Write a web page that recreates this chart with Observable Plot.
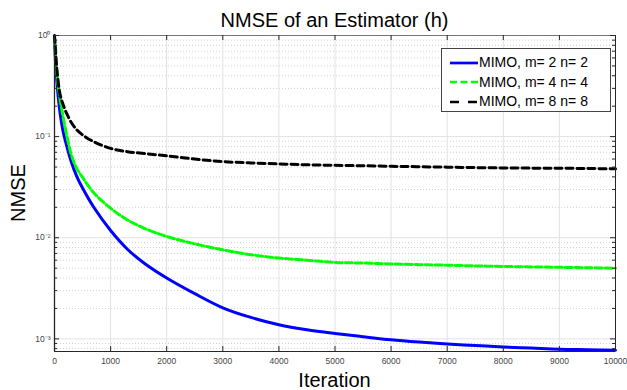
<!DOCTYPE html>
<html>
<head>
<meta charset="utf-8">
<script src="https://cdn.jsdelivr.net/npm/d3@7"></script>
<script src="https://cdn.jsdelivr.net/npm/@observablehq/plot@0.6"></script>
<style>
  body { margin: 0; background: #fff; font-family: "Liberation Sans", Arial, sans-serif; }
  #wrap { position: relative; width: 627px; height: 390px; overflow: hidden; background: #fff; }
  #wrap > svg { position: absolute; left: 0; top: 0; }
  .title { position: absolute; left: 54px; width: 561px; top: 10px; text-align: center; font-size: 20px; line-height: 20px; color: #000; white-space: nowrap; }
  .xlabel { position: absolute; left: 54px; width: 561px; top: 370px; text-align: center; font-size: 20px; line-height: 20px; color: #000; }
  .ylabel { position: absolute; left: 18px; top: 193px; transform: translate(-50%, -50%) rotate(-90deg); font-size: 20px; line-height: 20px; color: #000; white-space: nowrap; }
  .legend { position: absolute; left: 441px; top: 48px; width: 168px; height: 62px; border: 1px solid #444; background: #fff; }
  .legend .row { position: absolute; left: 0; height: 19px; display: flex; align-items: center; font-size: 14px; line-height: 19px; color: #000; white-space: nowrap; }
  .legend .row svg { display: block; margin-left: 8px; margin-right: 1px; }
</style>
</head>
<body>
<div id="wrap">
  <div class="title">NMSE of an Estimator (h)</div>
  <div class="xlabel">Iteration</div>
  <div class="ylabel">NMSE</div>
</div>
<script>
// ---- data ----
const iterations = [0, 20, 50, 100, 150, 200, 300, 400, 500, 700, 1000, 1300, 1600, 2000, 2500, 3000, 3500, 4000, 4500, 5000, 5500, 6000, 6500, 7000, 7500, 8000, 8500, 9000, 9500, 10000];
const mimo2 = [0.95, 0.53, 0.31, 0.17, 0.115, 0.088, 0.056, 0.040, 0.031, 0.020, 0.0118, 0.0077, 0.0056, 0.0040, 0.0028, 0.00203, 0.00163, 0.00138, 0.00123, 0.00113, 0.00105, 0.00098, 0.00093, 0.00089, 0.00086, 0.00083, 0.00081, 0.00079, 0.00078, 0.00077];
const mimo4 = [0.95, 0.60, 0.38, 0.235, 0.16, 0.115, 0.066, 0.048, 0.0395, 0.0278, 0.0196, 0.0150, 0.0124, 0.0103, 0.0087, 0.0076, 0.0068, 0.0063, 0.0060, 0.0057, 0.00562, 0.0055, 0.00542, 0.00535, 0.00527, 0.0052, 0.00515, 0.0051, 0.00505, 0.0050];
const mimo8 = [1.0, 0.68, 0.42, 0.26, 0.21, 0.178, 0.138, 0.116, 0.104, 0.089, 0.0765, 0.071, 0.068, 0.0645, 0.060, 0.0566, 0.055, 0.0537, 0.0527, 0.052, 0.0515, 0.0509, 0.0504, 0.0499, 0.0494, 0.049, 0.0488, 0.0487, 0.0484, 0.048];
const seriesNames = ["MIMO, m= 2 n= 2", "MIMO, m= 4 n= 4", "MIMO, m= 8 n= 8"];
const seriesColors = ["#0000ff", "#00ff00", "#000000"];
const seriesDash = [null, "7,3", "7,4"];
const legendDash = [null, "7,3.5", "9,9"];
const xTicks = [0, 1000, 2000, 3000, 4000, 5000, 6000, 7000, 8000, 9000, 10000];
const yTicks = [0.001, 0.01, 0.1, 1];
const xDomain = [0, 10000];
const yDomain = [0.00075, 1];

// ---- layout ----
const W = 627, H = 390, mL = 54, mR = 12, mT = 35, mB = 39;
const pW = W - mL - mR, pH = H - mT - mB;

const seriesValues = [mimo2, mimo4, mimo8];
const rows = [];
seriesNames.forEach((name, k) => {
  iterations.forEach((it, i) => rows.push({ iter: it, nmse: seriesValues[k][i], series: name }));
});

const minorTicks = [];
for (const d of [0.0001, 0.001, 0.01, 0.1]) {
  for (let m = 2; m <= 9; m++) {
    const v = m * d;
    if (v >= yDomain[0] && v < 1) minorTicks.push(v);
  }
}

const supMap = { "-": "\u207B", "0": "\u2070", "1": "\u00B9", "2": "\u00B2", "3": "\u00B3" };
const yFmt = d => "10" + String(Math.round(Math.log10(d))).split("").map(c => supMap[c]).join("");

const tickColor = "#262626";
const marks = [
  // grid
  Plot.ruleY(minorTicks, { y: d => d, stroke: "#d0d0d0", strokeDasharray: "1,2" }),
  Plot.ruleX(xTicks, { x: d => d, stroke: "#e2e2e2", strokeWidth: 1 }),
  Plot.ruleY(yTicks, { y: d => d, stroke: "#e2e2e2", strokeWidth: 1 }),
  // tick labels
  Plot.axisX({ ticks: xTicks, tickSize: 0, tickPadding: 6, tickFormat: d => String(d), fontSize: 8.5, color: "#444", label: null }),
  Plot.axisY({ ticks: yTicks, tickSize: 0, tickPadding: 4, tickFormat: yFmt, fontSize: 8.5, color: "#444", label: null }),
];
// curves: blue, green, black (black on top)
seriesNames.forEach((name, k) => {
  marks.push(Plot.line(rows.filter(r => r.series === name), {
    x: "iter", y: "nmse", stroke: seriesColors[k], strokeWidth: 3,
    strokeDasharray: seriesDash[k], curve: "catmull-rom"
  }));
});
// box
marks.push(
  Plot.ruleY([yDomain[1]], { y: d => d, stroke: "#777" }),
  Plot.ruleY([yDomain[0]], { y: d => d, stroke: tickColor }),
  Plot.ruleX([xDomain[0]], { x: d => d, stroke: tickColor, strokeWidth: 1.3 }),
  Plot.ruleX([xDomain[1]], { x: d => d, stroke: tickColor }),
  // inward ticks
  Plot.ruleX(xTicks, { x: d => d, insetTop: pH - 5, stroke: tickColor }),
  Plot.ruleX(xTicks, { x: d => d, insetBottom: pH - 5, stroke: tickColor }),
  Plot.ruleY(yTicks, { y: d => d, insetRight: pW - 5, stroke: tickColor }),
  Plot.ruleY(yTicks, { y: d => d, insetLeft: pW - 5, stroke: tickColor }),
  Plot.ruleY(minorTicks, { y: d => d, insetRight: pW - 3, stroke: tickColor }),
  Plot.ruleY(minorTicks, { y: d => d, insetLeft: pW - 3, stroke: tickColor })
);

const chart = Plot.plot({
  width: W, height: H,
  marginLeft: mL, marginRight: mR, marginTop: mT, marginBottom: mB,
  x: { domain: xDomain, label: null },
  y: { type: "log", domain: yDomain, label: null },
  style: { fontFamily: "'Liberation Sans', Arial, sans-serif", fontSize: "8.5px", background: "#fff", color: "#444" },
  marks
});
const wrap = document.getElementById("wrap");
wrap.insertBefore(chart, wrap.firstChild);

// legend
const legend = document.createElement("div");
legend.className = "legend";
seriesNames.forEach((name, k) => {
  const row = document.createElement("div");
  row.className = "row";
  row.style.top = (4 + k * 19.5) + "px";
  const sw = `<svg width="28" height="6"><line x1="0" y1="3" x2="28" y2="3" stroke="${seriesColors[k]}" stroke-width="2.7"${legendDash[k] ? ` stroke-dasharray="${legendDash[k]}"` : ""}/></svg>`;
  row.innerHTML = sw + `<span>${name}</span>`;
  legend.appendChild(row);
});
wrap.appendChild(legend);
</script>
</body>
</html>
